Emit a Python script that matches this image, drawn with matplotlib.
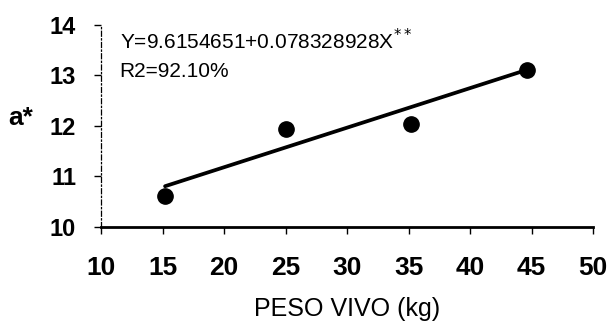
import matplotlib
matplotlib.use('Agg')
import matplotlib.pyplot as plt
import numpy as np

plt.rcParams['font.family'] = ['Liberation Sans', 'DejaVu Sans']

# datos
peso_vivo = [15.2, 25.0, 35.2, 44.6]
a_star = [10.61, 11.93, 12.03, 13.10]
b0 = 9.6154651
b1 = 0.078328928
x_ticks = [10, 15, 20, 25, 30, 35, 40, 45, 50]
y_ticks = [10, 11, 12, 13, 14]

fig = plt.figure(figsize=(6.09, 3.27), dpi=100)
ax = fig.add_axes([0.166, 0.306, 0.808, 0.618])

x_fit = np.array([min(peso_vivo), max(peso_vivo)])
ax.plot(x_fit, b0 + b1 * x_fit, color='black', lw=2.7, solid_capstyle='round', zorder=2)
ax.plot(peso_vivo, a_star, 'o', color='black', ms=11, zorder=3)

ax.set_xlim(10, 50)
ax.set_ylim(10, 14)
ax.set_xticks(x_ticks)
ax.set_yticks(y_ticks)
ax.tick_params(axis='both', direction='out', length=5, width=1, color='black')
ax.tick_params(axis='x', labelsize=19, pad=16)
ax.tick_params(axis='y', labelsize=17, pad=13)
for lab in ax.get_xticklabels() + ax.get_yticklabels():
    lab.set_fontweight('bold')

ax.spines['top'].set_visible(False)
ax.spines['right'].set_visible(False)
ax.spines['left'].set_linestyle((0, (4, 2, 1, 2)))
ax.spines['left'].set_linewidth(0.9)
ax.spines['bottom'].set_linewidth(2)
ax.spines['bottom'].set_zorder(1)

ax.set_xlabel('PESO VIVO (kg)', fontsize=18, labelpad=12)
fig.text(8 / 609, 1 - 118 / 327, 'a*', fontsize=19, fontweight='bold',
         ha='left', va='center')

ax.text(11.5, 13.68, 'Y=9.6154651+0.078328928X$^{**}$', fontsize=15,
        ha='left', va='center')
ax.text(11.5, 13.08, 'R2=92.10%', fontsize=15, ha='left', va='center')

fig.savefig('out.png', dpi=100)
